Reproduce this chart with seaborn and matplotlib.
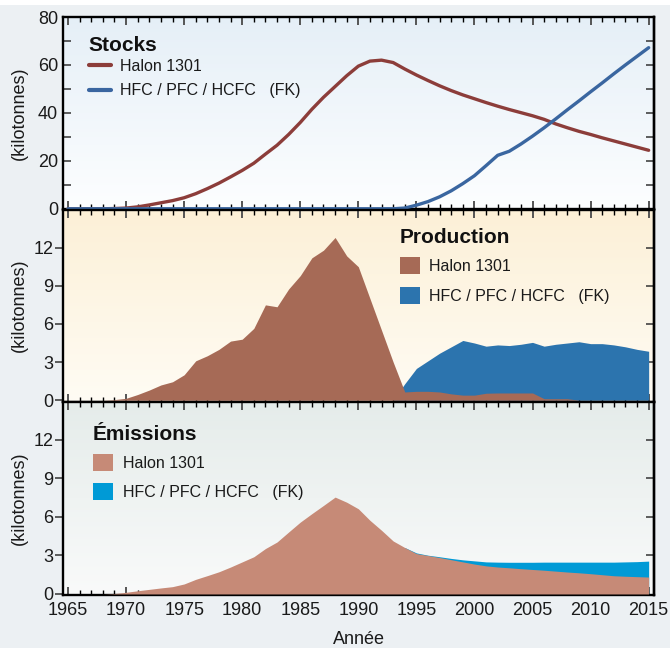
import numpy as np
import pandas as pd
import matplotlib
matplotlib.use("Agg")
import matplotlib.pyplot as plt
import seaborn as sns
from matplotlib.colors import LinearSegmentedColormap
from matplotlib.ticker import MultipleLocator, FixedLocator
from matplotlib.patches import Patch, Rectangle
from matplotlib.lines import Line2D

# ---------------- data ----------------
years = list(range(1965, 2016))

stock_halon = [0, 0, 0, 0, 0.1,
               0.3, 0.8, 1.6, 2.5, 3.4, 4.6, 6.3, 8.4, 10.7, 13.3,
               16.0, 19.0, 22.8, 26.5, 31.0, 36.0, 41.5, 46.5, 51.0, 55.5,
               59.5, 61.6, 62.0, 61.0, 58.3, 55.8, 53.5, 51.3, 49.3, 47.5,
               45.9, 44.3, 42.8, 41.4, 40.1, 38.8, 37.3, 35.4, 33.8, 32.3,
               31.0, 29.6, 28.3, 27.0, 25.7, 24.4]
stock_hfc = [0, 0, 0, 0, 0,
             0, 0, 0, 0, 0, 0, 0, 0, 0, 0,
             0, 0, 0, 0, 0, 0, 0, 0, 0, 0,
             0, 0, 0, 0, 0.3, 1.5, 3.0, 5.0, 7.5, 10.5,
             13.8, 18.0, 22.3, 24.0, 27.0, 30.3, 33.8, 37.5, 41.3, 45.0,
             48.8, 52.5, 56.3, 60.0, 63.6, 67.2]

prod_halon = [0, 0, 0, 0, 0.05,
              0.15, 0.45, 0.8, 1.2, 1.45, 2.0, 3.1, 3.5, 4.0, 4.65,
              4.8, 5.65, 7.5, 7.35, 8.75, 9.8, 11.2, 11.8, 12.8, 11.35,
              10.5, 8.0, 5.5, 3.0, 0.65, 0.7, 0.7, 0.65, 0.5, 0.4,
              0.4, 0.55, 0.57, 0.57, 0.57, 0.57, 0.12, 0.12, 0.12, 0.0,
              0, 0, 0, 0, 0, 0]
prod_hfc = [0, 0, 0, 0, 0,
            0, 0, 0, 0, 0, 0, 0, 0, 0, 0,
            0, 0, 0, 0, 0, 0, 0, 0, 0, 0,
            0, 0, 0, 0, 1.3, 2.5, 3.1, 3.7, 4.2, 4.7,
            4.5, 4.25, 4.35, 4.3, 4.4, 4.55, 4.25, 4.4, 4.5, 4.6,
            4.45, 4.45, 4.35, 4.2, 4.0, 3.85]

emis_halon = [0, 0, 0, 0, 0.03,
              0.13, 0.25, 0.36, 0.47, 0.57, 0.78, 1.14, 1.43, 1.73, 2.1,
              2.5, 2.9, 3.54, 4.05, 4.83, 5.6, 6.26, 6.9, 7.55, 7.15,
              6.64, 5.74, 4.96, 4.13, 3.62, 3.15, 3.0, 2.84, 2.67, 2.5,
              2.33, 2.19, 2.1, 2.04, 1.97, 1.91, 1.85, 1.78, 1.71, 1.65,
              1.58, 1.5, 1.42, 1.38, 1.35, 1.32]
emis_hfc = [0, 0, 0, 0, 0,
            0, 0, 0, 0, 0, 0, 0, 0, 0, 0,
            0, 0, 0, 0, 0, 0, 0, 0, 0, 0,
            0, 0, 0, 0, 3.62, 3.2, 3.02, 2.9, 2.77, 2.66,
            2.58, 2.5, 2.48, 2.47, 2.47, 2.47, 2.48, 2.48, 2.48, 2.48,
            2.48, 2.48, 2.48, 2.5, 2.52, 2.56]

series_labels = ["Halon 1301", "HFC / PFC / HCFC   (FK)"]
panel_titles = ["Stocks", "Production", "\u00c9missions"]
ylabel_text = "(kilotonnes)"
xlabel_text = "Ann\u00e9e"

# ---------------- style ----------------
sns.set_theme(style="white")
plt.rcParams["font.family"] = ["Liberation Sans", "DejaVu Sans"]

C_STOCK = ["#8C3D3A", "#3A66A0"]
C_PROD = ["#A66A56", "#2C74AE"]
C_EMIS = ["#C68A77", "#009AD6"]

W, H = 670, 648
fig = plt.figure(figsize=(W / 100, H / 100), dpi=100)
fig.patch.set_facecolor("#ECF0F3")
fig.patches.append(Rectangle((0, 1 - 5 / H), 1, 5 / H, transform=fig.transFigure,
                             facecolor="white", edgecolor="none", zorder=0))


def axes_px(top, bottom):
    return fig.add_axes([63 / W, 1 - bottom / H, 591 / W, (bottom - top) / H])


ax1 = axes_px(17, 209.5)
ax2 = axes_px(209.5, 401.5)
ax3 = axes_px(401.5, 595)

XLIM = (1964.57, 2015.46)
YL1 = (-0.3, 80)
YL2 = (-0.1, 15)
YL3 = (-0.08, 15)


def gradient(ax, c_top, c_bot, ylim):
    cmap = LinearSegmentedColormap.from_list("g", [c_bot, c_top])
    grad = np.linspace(0, 1, 256).reshape(-1, 1)
    ax.imshow(grad, extent=(XLIM[0], XLIM[1], ylim[0], ylim[1]), origin="lower",
              aspect="auto", cmap=cmap, zorder=0, interpolation="bicubic")


gradient(ax1, "#E5EFF7", "#FDFEFF", YL1)
gradient(ax2, "#FCF0D7", "#FFFCF4", YL2)
gradient(ax3, "#E5ECEA", "#F9FAFA", YL3)

# ---- stocks lines
df_stock = pd.DataFrame({"year": years * 2,
                         "value": stock_halon + stock_hfc,
                         "series": [series_labels[0]] * len(years) + [series_labels[1]] * len(years)})
sns.lineplot(data=df_stock, x="year", y="value", hue="series", palette=C_STOCK,
             linewidth=2.4, ax=ax1, legend=False, zorder=3,
             solid_capstyle="round")

# ---- production areas
ax2.fill_between(years, 0, prod_hfc, color=C_PROD[1], lw=0, zorder=2)
ax2.fill_between(years, 0, prod_halon, color=C_PROD[0], lw=0, zorder=3)

# ---- emission areas
ax3.fill_between(years, 0, emis_hfc, color=C_EMIS[1], lw=0, zorder=2)
ax3.fill_between(years, 0, emis_halon, color=C_EMIS[0], lw=0, zorder=3)

# ---- axes formatting
for ax, yl in ((ax1, YL1), (ax2, YL2), (ax3, YL3)):
    ax.set_xlim(*XLIM)
    ax.set_ylim(*yl)
    ax.set_xlabel("")
    ax.set_ylabel(ylabel_text, fontsize=13, color="#1a1a1a")
    ax.yaxis.set_label_coords(-0.060, 0.5)
    for s in ax.spines.values():
        s.set_visible(True)
        s.set_color("black")
        s.set_linewidth(1.7)
    ax.xaxis.set_major_locator(MultipleLocator(5))
    ax.xaxis.set_minor_locator(MultipleLocator(1))
    ax.tick_params(axis="x", which="major", direction="in", top=True, bottom=True,
                   length=5.6, width=1.4, color="#555555", labelsize=13,
                   labelcolor="#1a1a1a", pad=5)
    ax.tick_params(axis="x", which="minor", direction="in", top=True, bottom=True,
                   length=3.6, width=1.0, color="black")
    ax.grid(False)

ax1.tick_params(axis="x", labelbottom=False)
ax2.tick_params(axis="x", labelbottom=False)

ax1.yaxis.set_major_locator(FixedLocator([0, 20, 40, 60, 80]))
ax1.yaxis.set_minor_locator(FixedLocator([10, 30, 50, 70]))
ax1.tick_params(axis="y", which="both", direction="in", left=True, right=False,
                length=5.6, width=1.1, color="#333333", labelsize=13,
                labelcolor="#1a1a1a", pad=3.5)
for ax in (ax2, ax3):
    ax.yaxis.set_major_locator(FixedLocator([0, 3, 6, 9, 12]))
    ax.tick_params(axis="y", which="major", direction="out", left=True, right=False,
                   length=5.6, width=1.1, color="#333333", labelsize=13,
                   labelcolor="#1a1a1a", pad=1.2)

for ax, ticks in ((ax1, [10, 20, 30, 40, 50, 60, 70]), (ax2, [3, 6, 9, 12]), (ax3, [3, 6, 9, 12])):
    sec = ax.secondary_yaxis("right")
    sec.set_yticks(ticks)
    sec.tick_params(direction="in", length=6, width=1.1, color="#333333", labelright=False)
    sec.spines["right"].set_linewidth(1.7)
    sec.spines["right"].set_color("black")

ax3.set_xlabel(xlabel_text, fontsize=13, color="#1a1a1a", labelpad=9)

# ---- panel titles
title_pos = ((ax1, 0.0423, 0.825), (ax2, 0.570, 0.824), (ax3, 0.0503, 0.801))
for (ax, tx, ty), ttl in zip(title_pos, panel_titles):
    ax.text(tx, ty, ttl, transform=ax.transAxes, fontsize=15, fontweight="bold",
            color="#111111", ha="left", va="baseline", zorder=6)

# ---- legends
leg_common = dict(loc="upper left", frameon=False, fontsize=11.5,
                  borderpad=0, borderaxespad=0)

h1 = [Line2D([], [], color=c, lw=3, solid_capstyle="round") for c in C_STOCK]
l1 = ax1.legend(h1, series_labels, bbox_to_anchor=(0.044, 0.784),
                handlelength=1.4, handletextpad=0.55, labelspacing=0.6, **leg_common)

h2 = [Patch(facecolor=c, edgecolor="none") for c in C_PROD]
l2 = ax2.legend(h2, series_labels, bbox_to_anchor=(0.570, 0.752),
                handlelength=1.25, handleheight=1.25, handletextpad=0.6,
                labelspacing=0.8, **leg_common)

h3 = [Patch(facecolor=c, edgecolor="none") for c in C_EMIS]
l3 = ax3.legend(h3, series_labels, bbox_to_anchor=(0.0507, 0.727),
                handlelength=1.25, handleheight=1.25, handletextpad=0.6,
                labelspacing=0.75, **leg_common)
for lg in (l1, l2, l3):
    for t in lg.get_texts():
        t.set_color("#1a1a1a")
    lg.set_zorder(5)

fig.savefig("out.png", dpi=100, facecolor=fig.get_facecolor())
